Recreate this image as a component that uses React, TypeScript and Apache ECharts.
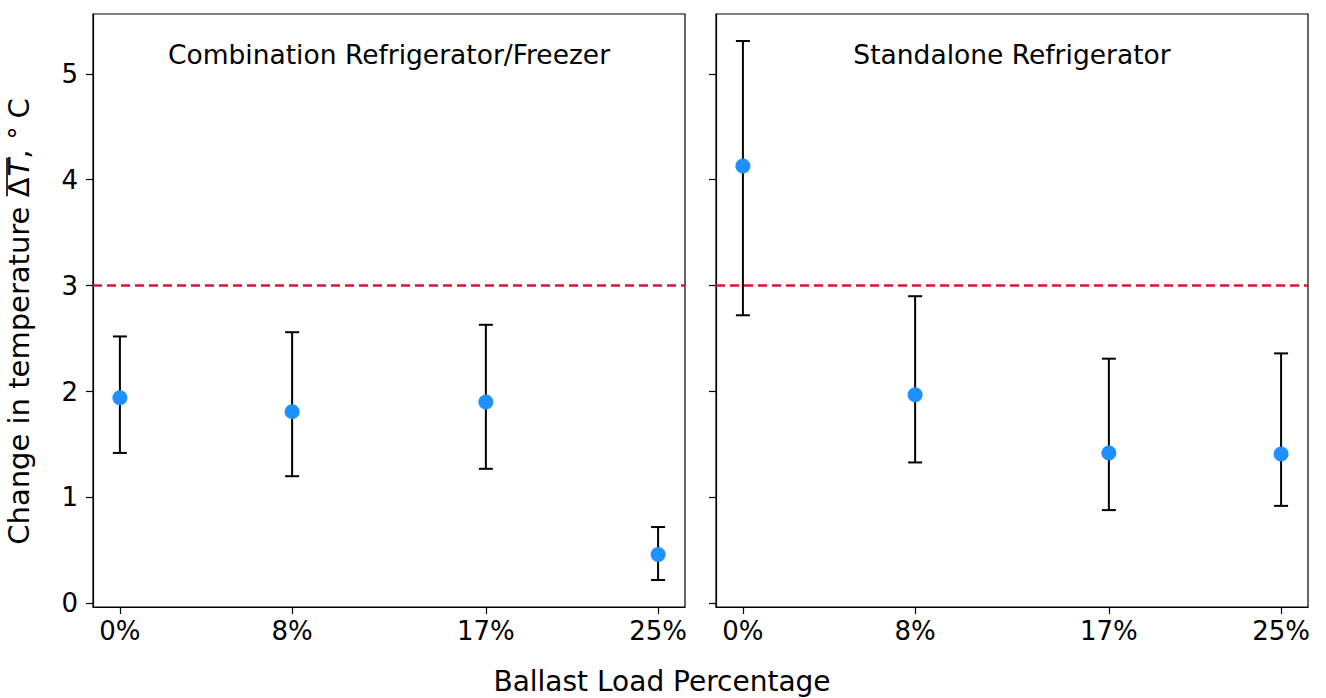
import React, { useEffect, useRef } from "react";
import * as echarts from "echarts";

const categories = [0, 8, 17, 25];
const comboMean = [1.94, 1.81, 1.9, 0.46];
const comboLow = [1.42, 1.2, 1.27, 0.22];
const comboHigh = [2.52, 2.56, 2.63, 0.72];
const standMean = [4.13, 1.97, 1.42, 1.41];
const standLow = [2.72, 1.33, 0.88, 0.92];
const standHigh = [5.31, 2.9, 2.31, 2.36];
const yTicks = [0, 1, 2, 3, 4, 5];
const threshold = 3;
const panelTitles = ["Combination Refrigerator/Freezer", "Standalone Refrigerator"];

const FONT = "DejaVu Sans";

function measure(text: string, size: number, italic = false) {
  const c = document.createElement("canvas").getContext("2d");
  if (!c) return text.length * size * 0.6;
  c.font = `${italic ? "italic " : ""}${size}px "${FONT}"`;
  return c.measureText(text).width;
}

function buildYLabel(cx: number, cy: number) {
  const size = 29;
  const pieces: { t: string; italic?: boolean; gapAfter?: number; sup?: boolean }[] = [
    { t: "Change in temperature ", gapAfter: 0 },
    { t: "\u0394", gapAfter: 1 },
    { t: "T", italic: true, gapAfter: 0 },
    { t: ",", gapAfter: 10 },
    { t: "\u00B0", sup: true, gapAfter: 8 },
    { t: "C", gapAfter: 0 },
  ];
  const widths = pieces.map((p) => measure(p.t, p.sup ? size * 0.9 : size, !!p.italic));
  const total = widths.reduce((a, w, i) => a + w + (pieces[i].gapAfter || 0), 0);
  let x = -total / 2;
  const baseline = (size * 0.73) / 2;
  const children: any[] = [];
  let olStart = 0;
  let olEnd = 0;
  pieces.forEach((p, i) => {
    if (i === 1) olStart = x;
    children.push({
      type: "text",
      x,
      y: p.sup ? baseline - 2 : baseline,
      style: {
        text: p.t,
        fontSize: p.sup ? size * 0.9 : size,
        fontFamily: FONT,
        fontStyle: p.italic ? "italic" : "normal",
        fill: "#000",
        textAlign: "left",
        textVerticalAlign: "bottom",
      },
    });
    x += widths[i];
    if (i === 2) olEnd = x;
    x += p.gapAfter || 0;
  });
  children.push({
    type: "line",
    shape: { x1: olStart + 1, y1: -16, x2: olEnd + 1, y2: -16 },
    style: { stroke: "#000", lineWidth: 1.6 },
  });
  return { type: "group", x: cx, y: cy, rotation: Math.PI / 2, children };
}

export default function App() {
  const ref = useRef<HTMLDivElement>(null);
  useEffect(() => {
    if (!ref.current) return;
    const chart = echarts.init(ref.current, null, { renderer: "svg" });
    const grids = [
      { left: 93, top: 14, width: 592, height: 593 },
      { left: 716, top: 14, width: 592, height: 593 },
    ];
    const xAxes = grids.map((_, i) => ({
      type: "value",
      gridIndex: i,
      min: -1.25,
      max: 26.25,
      splitLine: { show: false },
      axisLine: { show: true, onZero: false, lineStyle: { color: "#000", width: 1.2 } },
      axisTick: {
        show: true,
        length: 7,
        lineStyle: { color: "#000", width: 1.2 },
        customValues: categories,
      },
      axisLabel: {
        show: true,
        margin: 11,
        color: "#000",
        fontSize: 26,
        fontFamily: FONT,
        customValues: categories,
        formatter: (v: number) => `${v}%`,
      },
    }));
    const yAxes = grids.map((_, i) => ({
      type: "value",
      gridIndex: i,
      min: -0.035,
      max: 5.565,
      splitLine: { show: false },
      axisLine: { show: true, onZero: false, lineStyle: { color: "#000", width: 1.2 } },
      axisTick: {
        show: true,
        length: 7,
        lineStyle: { color: "#000", width: 1.2 },
        customValues: yTicks,
      },
      axisLabel: {
        show: i === 0,
        margin: 15,
        color: "#000",
        fontSize: 26,
        fontFamily: FONT,
        customValues: yTicks,
      },
    }));
    const panels = [
      { mean: comboMean, low: comboLow, high: comboHigh },
      { mean: standMean, low: standLow, high: standHigh },
    ];
    const series: any[] = [];
    panels.forEach((p, i) => {
      series.push({
        type: "line",
        xAxisIndex: i,
        yAxisIndex: i,
        data: [],
        silent: true,
        z: 1,
        markLine: {
          silent: true,
          symbol: "none",
          label: { show: false },
          lineStyle: { color: "#DC143C", type: [9, 5], width: 2.5 },
          data: [{ yAxis: threshold }],
        },
      });
      series.push({
        type: "custom",
        xAxisIndex: i,
        yAxisIndex: i,
        z: 2,
        data: categories.map((c, k) => [c, p.low[k], p.high[k]]),
        renderItem: (params: any, api: any) => {
          const x = api.value(0);
          const lo = api.coord([x, api.value(1)]);
          const hi = api.coord([x, api.value(2)]);
          const half = 7;
          const st = { stroke: "#000", lineWidth: 2 };
          return {
            type: "group",
            children: [
              { type: "line", shape: { x1: lo[0], y1: lo[1], x2: hi[0], y2: hi[1] }, style: st },
              { type: "line", shape: { x1: lo[0] - half, y1: lo[1], x2: lo[0] + half, y2: lo[1] }, style: st },
              { type: "line", shape: { x1: hi[0] - half, y1: hi[1], x2: hi[0] + half, y2: hi[1] }, style: st },
            ],
          };
        },
      });
      series.push({
        type: "scatter",
        xAxisIndex: i,
        yAxisIndex: i,
        z: 3,
        symbol: "circle",
        symbolSize: 15,
        itemStyle: { color: "#1E90FF", opacity: 1 },
        data: categories.map((c, k) => [c, p.mean[k]]),
      });
    });
    chart.setOption({
      animation: false,
      backgroundColor: "#fff",
      grid: grids.map((g) => ({
        ...g,
        show: true,
        borderColor: "#000",
        borderWidth: 1.2,
        backgroundColor: "transparent",
      })),
      xAxis: xAxes,
      yAxis: yAxes,
      series,
      graphic: [
        ...grids.map((g, i) => ({
          type: "text",
          x: g.left + g.width / 2,
          y: 54,
          style: {
            text: panelTitles[i],
            fontSize: 26.5,
            fontFamily: FONT,
            fill: "#000",
            textAlign: "center",
            textVerticalAlign: "middle",
          },
        })),
        {
          type: "text",
          x: 662,
          y: 681,
          style: {
            text: "Ballast Load Percentage",
            fontSize: 28,
            fontFamily: FONT,
            fill: "#000",
            textAlign: "center",
            textVerticalAlign: "middle",
          },
        },
        buildYLabel(23, 321.5),
      ],
    });
    return () => chart.dispose();
  }, []);
  return (
    <div
      ref={ref}
      style={{ position: "fixed", left: 0, top: 0, width: 1326, height: 698 }}
    />
  );
}
